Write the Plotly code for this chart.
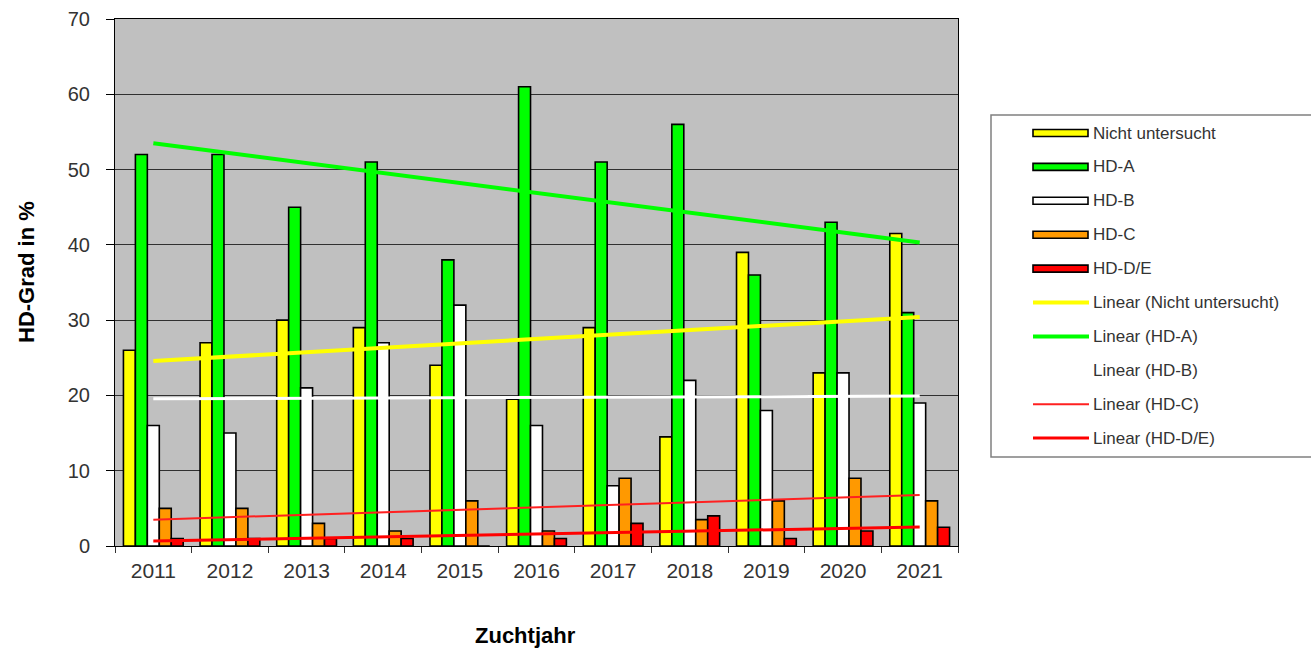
import numpy as np
import plotly.graph_objects as go

# Zuchtjahre und Anteile je HD-Grad (in %)
years = ["2011", "2012", "2013", "2014", "2015", "2016", "2017", "2018", "2019", "2020", "2021"]
nicht_untersucht = [26, 27, 30, 29, 24, 19.5, 29, 14.5, 39, 23, 41.5]
hd_a = [52, 52, 45, 51, 38, 61, 51, 56, 36, 43, 31]
hd_b = [16, 15, 21, 27, 32, 16, 8, 22, 18, 23, 19]
hd_c = [5, 5, 3, 2, 6, 2, 9, 3.5, 6, 9, 6]
hd_de = [1, 1, 1, 1, 0, 1, 3, 4, 1, 2, 2.5]

series = [
    ("Nicht untersucht", nicht_untersucht, "#FFFF00"),
    ("HD-A", hd_a, "#00FF00"),
    ("HD-B", hd_b, "#FFFFFF"),
    ("HD-C", hd_c, "#FF9900"),
    ("HD-D/E", hd_de, "#FF0000"),
]
# Trendlinien: (Name, Daten, Farbe, Linienbreite)
trends = [
    ("Linear (Nicht untersucht)", nicht_untersucht, "#FFFF00", 4),
    ("Linear (HD-A)", hd_a, "#00FF00", 4),
    ("Linear (HD-B)", hd_b, "#FFFFFF", 3),
    ("Linear (HD-C)", hd_c, "#FF2020", 2),
    ("Linear (HD-D/E)", hd_de, "#FF0000", 3),
]

FONT = "Arial, Liberation Sans, sans-serif"
TXT = "#333333"

# Plotbereich in Pixeln
L, R, T, B = 115, 958, 19, 546
W, H = 1311, 650

fig = go.Figure()

for name, vals, col in series:
    fig.add_trace(go.Bar(
        x=years, y=vals, name=name, marker_color=col,
        marker_line=dict(color="#000000", width=1.6),
        showlegend=False,
    ))

idx = np.arange(len(years))
for name, vals, col, w in trends:
    k, d = np.polyfit(idx, np.asarray(vals, dtype=float), 1)
    fig.add_trace(go.Scatter(
        x=[years[0], years[-1]], y=[d, k * idx[-1] + d], mode="lines",
        name=name, line=dict(color=col, width=w), showlegend=False,
    ))

fig.update_layout(
    width=W, height=H,
    margin=dict(l=L, r=W - R, t=T, b=H - B, autoexpand=False),
    paper_bgcolor="#FFFFFF", plot_bgcolor="#C0C0C0",
    barmode="group", bargap=0.22, bargroupgap=0.0,
    font=dict(family=FONT, color=TXT),
)
fig.update_xaxes(
    type="category", tickson="boundaries", ticks="outside", ticklen=6,
    tickcolor="#333333", showgrid=False, showline=True, linecolor="#000000",
    linewidth=1, mirror=True, tickfont=dict(size=21, color=TXT),
    ticklabelstandoff=6, range=[-0.5, 10.5], automargin=False,
)
fig.update_yaxes(
    range=[0, 70], dtick=10, ticks="outside", ticklen=8, tickcolor="#000000",
    showgrid=True, gridcolor="#303030", gridwidth=1, showline=True,
    linecolor="#000000", linewidth=1, mirror=True, zeroline=False,
    tickfont=dict(size=20, color=TXT), ticklabelstandoff=12, automargin=False,
)


def px(xp):
    return (xp - L) / (R - L)


def py(yp):
    return (B - yp) / (B - T)


# Achsentitel
fig.add_annotation(text="<b>Zuchtjahr</b>", xref="paper", yref="paper",
                   x=px(525), y=py(635), showarrow=False,
                   font=dict(size=22, color="#000000", family=FONT),
                   xanchor="center", yanchor="middle")
fig.add_annotation(text="<b>HD-Grad in %</b>", xref="paper", yref="paper",
                   x=px(26), y=py(272), textangle=-90, showarrow=False,
                   font=dict(size=22, color="#000000", family=FONT),
                   xanchor="center", yanchor="middle")

# Legende
fig.add_shape(type="rect", xref="paper", yref="paper",
              x0=px(991), x1=px(1330), y0=py(457), y1=py(115),
              line=dict(color="#808080", width=1.5), fillcolor="#FFFFFF")

row_y = [133 + i * 33.9 for i in range(10)]
for i, (name, vals, col) in enumerate(series):
    yy = row_y[i]
    fig.add_shape(type="rect", xref="paper", yref="paper",
                  x0=px(1033), x1=px(1088), y0=py(yy + 3.5), y1=py(yy - 3.5),
                  line=dict(color="#000000", width=1.6), fillcolor=col)
    fig.add_annotation(text=name, xref="paper", yref="paper", x=px(1091), y=py(yy),
                       xanchor="left", yanchor="middle", showarrow=False,
                       font=dict(size=17, color=TXT, family=FONT))
for j, (name, vals, col, w) in enumerate(trends):
    yy = row_y[5 + j]
    fig.add_shape(type="line", xref="paper", yref="paper",
                  x0=px(1033), x1=px(1089), y0=py(yy), y1=py(yy),
                  line=dict(color=col, width=w))
    fig.add_annotation(text=name, xref="paper", yref="paper", x=px(1091), y=py(yy),
                       xanchor="left", yanchor="middle", showarrow=False,
                       font=dict(size=17, color=TXT, family=FONT))

fig.write_html("out.html")
